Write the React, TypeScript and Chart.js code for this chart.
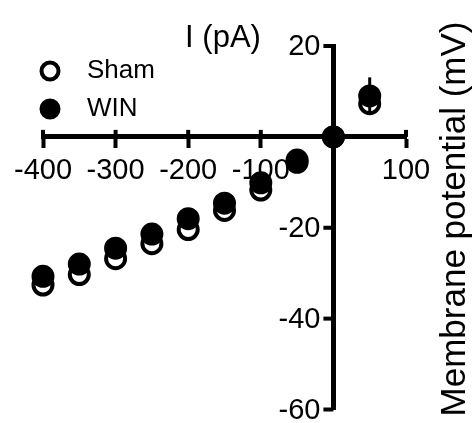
import React, { useEffect, useRef } from 'react';
import { Chart, registerables } from 'chart.js';

Chart.register(...registerables);

// ---- data ----
const currents = [-400, -350, -300, -250, -200, -150, -100, -50, 0, 50];
const shamMV = [-32.6, -30.3, -26.8, -23.5, -20.4, -16.2, -11.7, -5.6, 0, 7.3];
const winMV = [-30.7, -28.0, -24.5, -21.4, -18.0, -14.6, -10.1, -5.1, 0, 9.0];
const shamErr = [1.6, 1.6, 1.5, 1.5, 1.4, 1.4, 1.3, 1.2, 0, 2.0];
const winErr = [1.5, 1.5, 1.4, 1.4, 1.3, 1.3, 1.2, 1.2, 0, 4.1];
const seriesNames = ['Sham', 'WIN'];
const xTicks = [-400, -300, -200, -100, 0, 100];
const yTicks = [-60, -40, -20, 0, 20];
const xTitle = 'I (pA)';
const yTitle = 'Membrane potential (mV)';

const FONT = "'Liberation Sans', Arial, sans-serif";

const errorBars = {
  id: 'errorBars',
  beforeDatasetDraw(chart: any, args: any) {
    const ds = chart.data.datasets[args.index];
    const errs = ds.errors;
    if (!errs) return;
    const { ctx } = chart;
    const xs = chart.scales.x;
    const ys = chart.scales.y;
    ctx.save();
    ctx.strokeStyle = '#000';
    ctx.lineWidth = 3;
    ds.data.forEach((p: any, i: number) => {
      const e = errs[i];
      if (!e) return;
      const px = xs.getPixelForValue(p.x);
      ctx.beginPath();
      ctx.moveTo(px, ys.getPixelForValue(p.y - e));
      ctx.lineTo(px, ys.getPixelForValue(p.y + e));
      ctx.stroke();
    });
    ctx.restore();
  },
};

const decorations = {
  id: 'decorations',
  beforeDatasetsDraw(chart: any) {
    const { ctx } = chart;
    const xs = chart.scales.x;
    const ys = chart.scales.y;
    const y0 = ys.getPixelForValue(0);
    const x0 = xs.getPixelForValue(0);
    ctx.save();
    ctx.strokeStyle = '#000';
    ctx.lineWidth = 4;
    // upper half of crossing x tick marks
    xs.ticks.forEach((t: any) => {
      const px = xs.getPixelForValue(t.value);
      ctx.beginPath();
      ctx.moveTo(px, y0 - 7);
      ctx.lineTo(px, y0);
      ctx.stroke();
    });
    // y tick marks (pointing left) and labels
    ctx.fillStyle = '#000';
    ctx.font = `29px ${FONT}`;
    ctx.textAlign = 'right';
    ctx.textBaseline = 'middle';
    yTicks.forEach((v) => {
      const py = ys.getPixelForValue(v);
      ctx.beginPath();
      ctx.moveTo(x0 - 10, py);
      ctx.lineTo(x0, py);
      ctx.stroke();
      if (v !== 0) ctx.fillText(String(v), x0 - 13, py + 1);
    });
    ctx.restore();
  },
  afterDraw(chart: any) {
    const { ctx } = chart;
    ctx.save();
    ctx.fillStyle = '#000';
    // x title
    ctx.font = `31px ${FONT}`;
    ctx.textAlign = 'center';
    ctx.textBaseline = 'middle';
    ctx.fillText(xTitle, 223, 38);
    // y title (rotated)
    ctx.save();
    ctx.translate(455, 219);
    ctx.rotate(-Math.PI / 2);
    ctx.font = `35px ${FONT}`;
    ctx.fillText(yTitle, 0, 0);
    ctx.restore();
    // legend
    const rows = [71, 109];
    chart.data.datasets.forEach((ds: any, i: number) => {
      const cy = rows[i];
      ctx.beginPath();
      ctx.arc(50, cy, 8.5, 0, Math.PI * 2);
      ctx.fillStyle = ds.pointBackgroundColor;
      ctx.fill();
      ctx.lineWidth = 4;
      ctx.strokeStyle = ds.pointBorderColor;
      ctx.stroke();
      ctx.fillStyle = '#000';
      ctx.font = `26px ${FONT}`;
      ctx.textAlign = 'left';
      ctx.textBaseline = 'middle';
      ctx.fillText(ds.label, 87, cy);
    });
    ctx.restore();
  },
};

export default function App() {
  const ref = useRef<HTMLCanvasElement | null>(null);

  useEffect(() => {
    if (!ref.current) return;
    const chart = new Chart(ref.current, {
      type: 'scatter',
      data: {
        datasets: [
          {
            label: seriesNames[0],
            data: currents.map((x, i) => ({ x, y: shamMV[i] })),
            errors: shamErr,
            pointBackgroundColor: '#ffffff',
            pointBorderColor: '#000000',
            pointBorderWidth: 4,
            pointRadius: 9.5,
            pointHoverRadius: 9.5,
            order: 2,
            clip: false,
          } as any,
          {
            label: seriesNames[1],
            data: currents.map((x, i) => ({ x, y: winMV[i] })),
            errors: winErr,
            pointBackgroundColor: '#000000',
            pointBorderColor: '#000000',
            pointBorderWidth: 4,
            pointRadius: 9.5,
            pointHoverRadius: 9.5,
            order: 1,
            clip: false,
          } as any,
        ],
      },
      options: {
        responsive: false,
        animation: false,
        events: [],
        layout: { padding: { left: 43, right: 67, top: 46, bottom: 11 } },
        plugins: {
          legend: { display: false },
          tooltip: { enabled: false },
          title: { display: false },
        },
        scales: {
          x: {
            type: 'linear',
            position: { y: 0 },
            min: -400,
            max: 100,
            afterBuildTicks: (s: any) => {
              s.ticks = xTicks.map((v) => ({ value: v }));
            },
            afterFit: (s: any) => {
              s.paddingLeft = 0;
              s.paddingRight = 0;
            },
            border: { display: true, color: '#000', width: 5 },
            grid: {
              drawOnChartArea: false,
              drawTicks: true,
              tickLength: 9,
              tickWidth: 4,
              tickColor: '#000',
            },
            ticks: {
              autoSkip: false,
              maxRotation: 0,
              padding: 8,
              color: '#000',
              font: { family: FONT, size: 29 },
              callback: (v: any) => (v === 0 ? '' : String(v)),
            },
          },
          y: {
            type: 'linear',
            position: { x: 0 },
            min: -60,
            max: 20,
            afterBuildTicks: (s: any) => {
              s.ticks = yTicks.map((v) => ({ value: v }));
            },
            afterFit: (s: any) => {
              s.paddingTop = 0;
              s.paddingBottom = 0;
            },
            border: { display: true, color: '#000', width: 5 },
            grid: { display: false, drawOnChartArea: false, drawTicks: false },
            ticks: { display: false },
          },
        },
      } as any,
      plugins: [errorBars, decorations],
    });
    return () => chart.destroy();
  }, []);

  return (
    <canvas
      ref={ref}
      width={473}
      height={423}
      style={{ position: 'absolute', left: 0, top: 0, display: 'block' }}
    />
  );
}
